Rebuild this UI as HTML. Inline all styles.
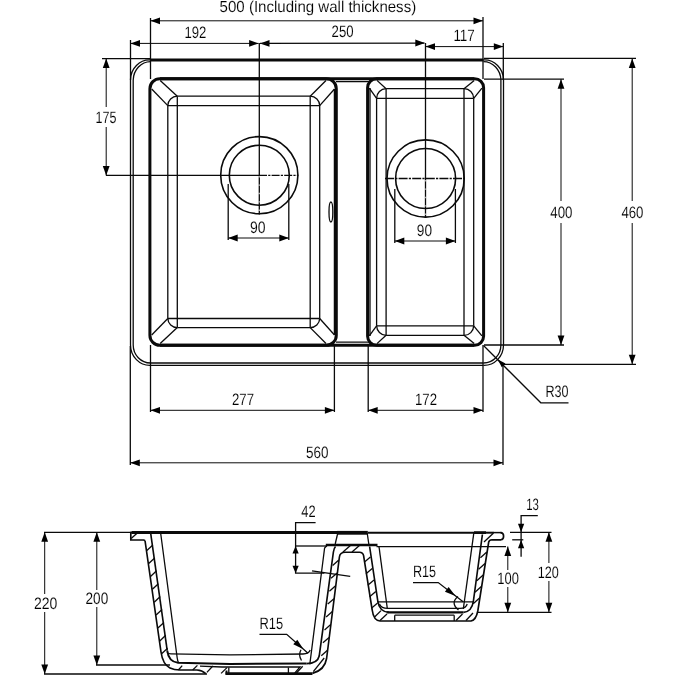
<!DOCTYPE html>
<html><head><meta charset="utf-8"><title>Sink drawing</title>
<style>
html,body{margin:0;padding:0;background:#fff;}
body{width:675px;height:675px;overflow:hidden;}
svg{display:block;}
text{font-family:"Liberation Sans",sans-serif;fill:#000;stroke:#fff;stroke-width:0.12px;text-rendering:geometricPrecision;}
svg{will-change:transform;}
</style></head><body>
<svg width="675" height="675" viewBox="0 0 675 675">
<rect width="675" height="675" fill="#fff"/>
<path d="M150.5,60 H483.5" stroke="#0a0a0a" stroke-width="3.0" fill="none" />
<path d="M150.5,60 A19,20 0 0 0 130.5,80" stroke="#0a0a0a" stroke-width="1.3" fill="none" />
<path d="M150.5,61.6 A17.5,19 0 0 0 133.2,80" stroke="#0a0a0a" stroke-width="1.3" fill="none" />
<path d="M483.5,60 A19,20 0 0 1 503.5,80" stroke="#0a0a0a" stroke-width="1.3" fill="none" />
<path d="M483.5,61.6 A17.5,19 0 0 1 500.9,80" stroke="#0a0a0a" stroke-width="1.3" fill="none" />
<line x1="130.5" y1="80" x2="130.5" y2="345" stroke="#0a0a0a" stroke-width="1.3" />
<line x1="133.2" y1="80" x2="133.2" y2="345" stroke="#0a0a0a" stroke-width="1.3" />
<line x1="503.5" y1="80" x2="503.5" y2="345" stroke="#0a0a0a" stroke-width="1.3" />
<line x1="500.9" y1="80" x2="500.9" y2="345" stroke="#0a0a0a" stroke-width="1.3" />
<path d="M130.5,345 A19.5,20.4 0 0 0 150.5,365.4" stroke="#0a0a0a" stroke-width="1.3" fill="none" />
<path d="M133.2,345 A17.3,18 0 0 0 150.5,363" stroke="#0a0a0a" stroke-width="1.3" fill="none" />
<path d="M503.5,345 A19.5,20.4 0 0 1 483.5,365.4" stroke="#0a0a0a" stroke-width="1.3" fill="none" />
<path d="M500.9,345 A17.3,18 0 0 1 483.5,363" stroke="#0a0a0a" stroke-width="1.3" fill="none" />
<line x1="150.5" y1="363" x2="483.5" y2="363" stroke="#0a0a0a" stroke-width="1.3" />
<line x1="150.5" y1="365.4" x2="483.5" y2="365.4" stroke="#0a0a0a" stroke-width="1.3" />
<line x1="160" y1="78.7" x2="474" y2="78.7" stroke="#0a0a0a" stroke-width="3.0" />
<line x1="160" y1="345.3" x2="474" y2="345.3" stroke="#0a0a0a" stroke-width="3.0" />
<line x1="336" y1="81.7" x2="370" y2="81.7" stroke="#0a0a0a" stroke-width="1.3" />
<line x1="336" y1="342.2" x2="370" y2="342.2" stroke="#0a0a0a" stroke-width="1.3" />
<rect x="149.9" y="78.7" width="186.4" height="266.6" rx="10" ry="10" fill="none" stroke="#0a0a0a" stroke-width="3.0"/>
<line x1="177.3" y1="96.2" x2="310.2" y2="96.2" stroke="#0a0a0a" stroke-width="1.3" />
<line x1="167.8" y1="105.6" x2="319.7" y2="105.6" stroke="#0a0a0a" stroke-width="1.3" />
<line x1="167.8" y1="318.5" x2="319.7" y2="318.5" stroke="#0a0a0a" stroke-width="1.3" />
<line x1="177.3" y1="327.6" x2="310.2" y2="327.6" stroke="#0a0a0a" stroke-width="1.3" />
<line x1="167.8" y1="105.6" x2="167.8" y2="318.5" stroke="#0a0a0a" stroke-width="1.3" />
<line x1="177.3" y1="96.2" x2="177.3" y2="327.6" stroke="#0a0a0a" stroke-width="1.3" />
<line x1="319.7" y1="105.6" x2="319.7" y2="318.5" stroke="#0a0a0a" stroke-width="1.3" />
<line x1="310.2" y1="96.2" x2="310.2" y2="327.6" stroke="#0a0a0a" stroke-width="1.3" />
<path d="M167.8,105.6 A9.5,9.399999999999991 0 0 1 177.3,96.2" stroke="#0a0a0a" stroke-width="1.3" fill="none" />
<path d="M319.7,105.6 A9.5,9.399999999999991 0 0 0 310.2,96.2" stroke="#0a0a0a" stroke-width="1.3" fill="none" />
<path d="M167.8,318.5 A9.5,9.399999999999991 0 0 0 177.3,327.6" stroke="#0a0a0a" stroke-width="1.3" fill="none" />
<path d="M319.7,318.5 A9.5,9.399999999999991 0 0 1 310.2,327.6" stroke="#0a0a0a" stroke-width="1.3" fill="none" />
<line x1="151.7" y1="89.0" x2="167.8" y2="105.6" stroke="#0a0a0a" stroke-width="1.3" />
<line x1="160.20000000000002" y1="80.5" x2="177.3" y2="96.2" stroke="#0a0a0a" stroke-width="1.3" />
<line x1="334.5" y1="89.0" x2="319.7" y2="105.6" stroke="#0a0a0a" stroke-width="1.3" />
<line x1="326.0" y1="80.5" x2="310.2" y2="96.2" stroke="#0a0a0a" stroke-width="1.3" />
<line x1="151.7" y1="335.0" x2="167.8" y2="318.5" stroke="#0a0a0a" stroke-width="1.3" />
<line x1="160.20000000000002" y1="343.5" x2="177.3" y2="327.6" stroke="#0a0a0a" stroke-width="1.3" />
<line x1="334.5" y1="335.0" x2="319.7" y2="318.5" stroke="#0a0a0a" stroke-width="1.3" />
<line x1="326.0" y1="343.5" x2="310.2" y2="327.6" stroke="#0a0a0a" stroke-width="1.3" />
<line x1="334.4" y1="89" x2="334.4" y2="335" stroke="#0a0a0a" stroke-width="1.3" />
<rect x="367.6" y="78.7" width="116.0" height="266.6" rx="9" ry="9" fill="none" stroke="#0a0a0a" stroke-width="3.0"/>
<line x1="386.1" y1="88.7" x2="464.0" y2="88.7" stroke="#0a0a0a" stroke-width="1.3" />
<line x1="376.6" y1="98.4" x2="473.7" y2="98.4" stroke="#0a0a0a" stroke-width="1.3" />
<line x1="376.6" y1="325.8" x2="473.7" y2="325.8" stroke="#0a0a0a" stroke-width="1.3" />
<line x1="386.1" y1="335.3" x2="464.0" y2="335.3" stroke="#0a0a0a" stroke-width="1.3" />
<line x1="376.6" y1="98.4" x2="376.6" y2="325.8" stroke="#0a0a0a" stroke-width="1.3" />
<line x1="386.1" y1="88.7" x2="386.1" y2="335.3" stroke="#0a0a0a" stroke-width="1.3" />
<line x1="473.7" y1="98.4" x2="473.7" y2="325.8" stroke="#0a0a0a" stroke-width="1.3" />
<line x1="464.0" y1="88.7" x2="464.0" y2="335.3" stroke="#0a0a0a" stroke-width="1.3" />
<path d="M376.6,98.4 A9.5,9.700000000000003 0 0 1 386.1,88.7" stroke="#0a0a0a" stroke-width="1.3" fill="none" />
<path d="M473.7,98.4 A9.5,9.700000000000003 0 0 0 464.0,88.7" stroke="#0a0a0a" stroke-width="1.3" fill="none" />
<path d="M376.6,325.8 A9.5,9.700000000000003 0 0 0 386.1,335.3" stroke="#0a0a0a" stroke-width="1.3" fill="none" />
<path d="M473.7,325.8 A9.5,9.700000000000003 0 0 1 464.0,335.3" stroke="#0a0a0a" stroke-width="1.3" fill="none" />
<line x1="369.28000000000003" y1="88.07000000000001" x2="376.6" y2="98.4" stroke="#0a0a0a" stroke-width="1.3" />
<line x1="376.97" y1="80.38" x2="386.1" y2="88.7" stroke="#0a0a0a" stroke-width="1.3" />
<line x1="481.92" y1="88.07000000000001" x2="473.7" y2="98.4" stroke="#0a0a0a" stroke-width="1.3" />
<line x1="474.23" y1="80.38" x2="464.0" y2="88.7" stroke="#0a0a0a" stroke-width="1.3" />
<line x1="369.28000000000003" y1="335.93" x2="376.6" y2="325.8" stroke="#0a0a0a" stroke-width="1.3" />
<line x1="376.97" y1="343.62" x2="386.1" y2="335.3" stroke="#0a0a0a" stroke-width="1.3" />
<line x1="481.92" y1="335.93" x2="473.7" y2="325.8" stroke="#0a0a0a" stroke-width="1.3" />
<line x1="474.23" y1="343.62" x2="464.0" y2="335.3" stroke="#0a0a0a" stroke-width="1.3" />
<line x1="370.0" y1="88" x2="370.0" y2="336" stroke="#0a0a0a" stroke-width="1.3" />
<circle cx="259.3" cy="175.2" r="38.6" fill="none" stroke="#0a0a0a" stroke-width="1.6"/>
<circle cx="259.3" cy="175.2" r="30" fill="none" stroke="#0a0a0a" stroke-width="1.6"/>
<circle cx="425.6" cy="178.5" r="38.6" fill="none" stroke="#0a0a0a" stroke-width="1.6"/>
<circle cx="425.6" cy="178.5" r="30" fill="none" stroke="#0a0a0a" stroke-width="1.6"/>
<ellipse cx="330.9" cy="212" rx="1.9" ry="10" fill="none" stroke="#0a0a0a" stroke-width="1.3"/>
<line x1="259.3" y1="43" x2="259.3" y2="214.5" stroke="#0a0a0a" stroke-width="1.3" />
<line x1="106" y1="175.4" x2="259" y2="175.4" stroke="#0a0a0a" stroke-width="1.3" />
<line x1="259" y1="175.4" x2="298.3" y2="175.4" stroke="#0a0a0a" stroke-width="1.3" stroke-dasharray="8 1.2 2.2 1.2"/>
<line x1="259.3" y1="176" x2="259.3" y2="214" stroke="#fff" stroke-width="1.6" stroke-dasharray="1.4 7" stroke-opacity="0.65"/>
<line x1="425.5" y1="43" x2="425.5" y2="218" stroke="#0a0a0a" stroke-width="1.3" />
<line x1="385" y1="178.5" x2="465" y2="178.5" stroke="#0a0a0a" stroke-width="1.3" stroke-dasharray="9 1.2 2.2 1.2"/>
<line x1="425.5" y1="180" x2="425.5" y2="218" stroke="#fff" stroke-width="1.6" stroke-dasharray="1.4 7" stroke-opacity="0.65"/>
<line x1="228.2" y1="184" x2="228.2" y2="240" stroke="#0a0a0a" stroke-width="1.3" />
<line x1="288.8" y1="184" x2="288.8" y2="240" stroke="#0a0a0a" stroke-width="1.3" />
<line x1="228.2" y1="238" x2="288.8" y2="238" stroke="#0a0a0a" stroke-width="1.0" />
<polygon points="228.20,238.00 237.70,234.60 237.70,241.40" fill="#000"/>
<polygon points="288.80,238.00 279.30,241.40 279.30,234.60" fill="#000"/>
<text x="250" y="233" font-size="16.5" textLength="15.6" lengthAdjust="spacingAndGlyphs">90</text>
<line x1="394.8" y1="189" x2="394.8" y2="243" stroke="#0a0a0a" stroke-width="1.3" />
<line x1="455.4" y1="189" x2="455.4" y2="243" stroke="#0a0a0a" stroke-width="1.3" />
<line x1="394.8" y1="241" x2="455.4" y2="241" stroke="#0a0a0a" stroke-width="1.0" />
<polygon points="394.80,241.00 404.30,237.60 404.30,244.40" fill="#000"/>
<polygon points="455.40,241.00 445.90,244.40 445.90,237.60" fill="#000"/>
<text x="416.8" y="236" font-size="16.5" textLength="15.2" lengthAdjust="spacingAndGlyphs">90</text>
<line x1="150.5" y1="18" x2="150.5" y2="79" stroke="#0a0a0a" stroke-width="1.3" />
<line x1="483" y1="17" x2="483" y2="79" stroke="#0a0a0a" stroke-width="1.3" />
<line x1="150.5" y1="20.8" x2="483" y2="20.8" stroke="#0a0a0a" stroke-width="1.0" />
<polygon points="150.50,20.80 160.00,17.40 160.00,24.20" fill="#000"/>
<polygon points="483.00,20.80 473.50,24.20 473.50,17.40" fill="#000"/>
<text x="219.6" y="11.6" font-size="16" textLength="196.6" lengthAdjust="spacingAndGlyphs">500 (Including wall thickness)</text>
<line x1="130.5" y1="40" x2="130.5" y2="80" stroke="#0a0a0a" stroke-width="1.3" />
<line x1="130.5" y1="43.4" x2="258.6" y2="43.4" stroke="#0a0a0a" stroke-width="1.0" />
<polygon points="130.50,43.40 140.00,40.00 140.00,46.80" fill="#000"/>
<polygon points="258.60,43.40 249.10,46.80 249.10,40.00" fill="#000"/>
<polygon points="260.00,43.40 269.50,40.00 269.50,46.80" fill="#000"/>
<line x1="260" y1="43.4" x2="424.5" y2="43.2" stroke="#0a0a0a" stroke-width="1.3" />
<polygon points="424.80,43.00 415.30,46.40 415.30,39.60" fill="#000"/>
<text x="184.5" y="37.6" font-size="16.5" textLength="21.9" lengthAdjust="spacingAndGlyphs">192</text>
<text x="331.6" y="37.4" font-size="16.5" textLength="22.0" lengthAdjust="spacingAndGlyphs">250</text>
<line x1="503.3" y1="43" x2="503.3" y2="80" stroke="#0a0a0a" stroke-width="1.3" />
<line x1="425.5" y1="46.6" x2="503.3" y2="46.6" stroke="#0a0a0a" stroke-width="1.0" />
<polygon points="425.50,46.60 435.00,43.20 435.00,50.00" fill="#000"/>
<polygon points="503.30,46.60 493.80,50.00 493.80,43.20" fill="#000"/>
<text x="453.4" y="41" font-size="16.5" textLength="21.4" lengthAdjust="spacingAndGlyphs">117</text>
<line x1="102" y1="58.6" x2="150" y2="58.6" stroke="#0a0a0a" stroke-width="1.3" />
<line x1="106.2" y1="58.6" x2="106.2" y2="107" stroke="#0a0a0a" stroke-width="1.0" />
<line x1="106.2" y1="127" x2="106.2" y2="175.5" stroke="#0a0a0a" stroke-width="1.0" />
<polygon points="106.20,58.60 109.60,68.10 102.80,68.10" fill="#000"/>
<polygon points="106.20,175.50 102.80,166.00 109.60,166.00" fill="#000"/>
<text x="95.5" y="122.8" font-size="16.5" textLength="20.9" lengthAdjust="spacingAndGlyphs">175</text>
<line x1="484" y1="79.2" x2="564" y2="79.2" stroke="#0a0a0a" stroke-width="1.3" />
<line x1="484" y1="345" x2="564" y2="345" stroke="#0a0a0a" stroke-width="1.3" />
<line x1="561" y1="79.2" x2="561" y2="201" stroke="#0a0a0a" stroke-width="1.0" />
<line x1="561" y1="223" x2="561" y2="345" stroke="#0a0a0a" stroke-width="1.0" />
<polygon points="561.00,79.20 564.40,88.70 557.60,88.70" fill="#000"/>
<polygon points="561.00,345.00 557.60,335.50 564.40,335.50" fill="#000"/>
<text x="550.3" y="217.8" font-size="16.5" textLength="22.2" lengthAdjust="spacingAndGlyphs">400</text>
<line x1="484" y1="58.4" x2="636" y2="58.4" stroke="#0a0a0a" stroke-width="1.3" />
<line x1="503" y1="364.3" x2="636" y2="364.3" stroke="#0a0a0a" stroke-width="1.3" />
<line x1="632.2" y1="58.4" x2="632.2" y2="201" stroke="#0a0a0a" stroke-width="1.0" />
<line x1="632.2" y1="223" x2="632.2" y2="364.3" stroke="#0a0a0a" stroke-width="1.0" />
<polygon points="632.20,58.40 635.60,67.90 628.80,67.90" fill="#000"/>
<polygon points="632.20,364.30 628.80,354.80 635.60,354.80" fill="#000"/>
<text x="621.4" y="217.8" font-size="16.5" textLength="22.1" lengthAdjust="spacingAndGlyphs">460</text>
<line x1="150.5" y1="345" x2="150.5" y2="412" stroke="#0a0a0a" stroke-width="1.3" />
<line x1="334.4" y1="345" x2="334.4" y2="412" stroke="#0a0a0a" stroke-width="1.3" />
<line x1="150.5" y1="410.3" x2="334.4" y2="410.3" stroke="#0a0a0a" stroke-width="1.0" />
<polygon points="150.50,410.30 160.00,406.90 160.00,413.70" fill="#000"/>
<polygon points="334.40,410.30 324.90,413.70 324.90,406.90" fill="#000"/>
<text x="232" y="404.8" font-size="16.5" textLength="22.0" lengthAdjust="spacingAndGlyphs">277</text>
<line x1="368.2" y1="345" x2="368.2" y2="412" stroke="#0a0a0a" stroke-width="1.3" />
<line x1="483" y1="345" x2="483" y2="412" stroke="#0a0a0a" stroke-width="1.3" />
<line x1="368.2" y1="410.3" x2="483" y2="410.3" stroke="#0a0a0a" stroke-width="1.0" />
<polygon points="368.20,410.30 377.70,406.90 377.70,413.70" fill="#000"/>
<polygon points="483.00,410.30 473.50,413.70 473.50,406.90" fill="#000"/>
<text x="415" y="404.8" font-size="16.5" textLength="22.0" lengthAdjust="spacingAndGlyphs">172</text>
<line x1="130.3" y1="346" x2="130.3" y2="465" stroke="#0a0a0a" stroke-width="1.3" />
<line x1="503" y1="365" x2="503" y2="465" stroke="#0a0a0a" stroke-width="1.3" />
<line x1="130.3" y1="462.8" x2="503" y2="462.8" stroke="#0a0a0a" stroke-width="1.0" />
<polygon points="130.30,462.80 139.80,459.40 139.80,466.20" fill="#000"/>
<polygon points="503.00,462.80 493.50,466.20 493.50,459.40" fill="#000"/>
<text x="306" y="457.6" font-size="16.5" textLength="22.5" lengthAdjust="spacingAndGlyphs">560</text>
<path d="M483.5,345.5 L540.8,402.8 H568.5" stroke="#0a0a0a" stroke-width="1.3" fill="none" />
<polygon points="497.60,359.30 505.45,363.47 501.77,367.15" fill="#000"/>
<text x="545.4" y="397.2" font-size="16.5" textLength="23.1" lengthAdjust="spacingAndGlyphs">R30</text>
<line x1="131.5" y1="532.6" x2="337" y2="532.6" stroke="#0a0a0a" stroke-width="3.0" />
<line x1="337" y1="532.8" x2="367.8" y2="532.8" stroke="#0a0a0a" stroke-width="3.8" />
<line x1="367.8" y1="532.8" x2="474" y2="532.8" stroke="#0a0a0a" stroke-width="2.1" />
<line x1="474" y1="532.6" x2="486" y2="532.6" stroke="#0a0a0a" stroke-width="2.8" />
<line x1="486" y1="532.7" x2="494" y2="532.7" stroke="#0a0a0a" stroke-width="2.0" />
<line x1="494" y1="532.6" x2="501.5" y2="532.6" stroke="#0a0a0a" stroke-width="1.5" />
<path d="M132,532.5 H130.8 V540 H143.6 L145,540.5" stroke="#0a0a0a" stroke-width="1.65" fill="none" />
<line x1="131.2" y1="538.6" x2="137" y2="533.2" stroke="#0a0a0a" stroke-width="1.3" />
<path d="M145,540.5 L161,652 Q162.8,664.5 170,668 Q174,670 180,670 H197 Q202,670.3 205.8,673.6" stroke="#0a0a0a" stroke-width="1.65" fill="none" />
<path d="M167.2,650.5 Q168.6,661.8 178,662.8 L230,664 L306.5,663.6" stroke="#0a0a0a" stroke-width="2.0" fill="none" />
<path d="M150.7,533.5 L167.2,650.5" stroke="#0a0a0a" stroke-width="1.65" fill="none" />
<path d="M160.7,533.5 L177.2,658 Q177.6,661 178.6,662.6" stroke="#0a0a0a" stroke-width="1.3" fill="none" />
<line x1="146.8443" y1="550.6" x2="152.8443" y2="545.0" stroke="#0a0a0a" stroke-width="1.3" />
<line x1="148.689" y1="563.5" x2="154.689" y2="557.9" stroke="#0a0a0a" stroke-width="1.3" />
<line x1="150.5337" y1="576.4" x2="156.5337" y2="570.8" stroke="#0a0a0a" stroke-width="1.3" />
<line x1="152.37840000000003" y1="589.3000000000001" x2="158.37840000000003" y2="583.7" stroke="#0a0a0a" stroke-width="1.3" />
<line x1="154.22310000000002" y1="602.2" x2="160.22310000000002" y2="596.6" stroke="#0a0a0a" stroke-width="1.3" />
<line x1="156.0678" y1="615.1" x2="162.0678" y2="609.5" stroke="#0a0a0a" stroke-width="1.3" />
<line x1="157.9125" y1="628.0" x2="163.9125" y2="622.4" stroke="#0a0a0a" stroke-width="1.3" />
<line x1="159.7572" y1="640.9" x2="165.7572" y2="635.3" stroke="#0a0a0a" stroke-width="1.3" />
<line x1="161.60190000000003" y1="653.8000000000001" x2="167.60190000000003" y2="648.2" stroke="#0a0a0a" stroke-width="1.3" />
<path d="M167,652.5 Q167.6,653.7 171,653.8 L230,654.9 L303,654 Q309,653.8 310.2,650" stroke="#0a0a0a" stroke-width="1.3" fill="none" />
<path d="M200,666.2 L222,667 H300 L294.7,673.2" stroke="#0a0a0a" stroke-width="1.3" fill="none" />
<line x1="228.8" y1="667.5" x2="228.8" y2="673.5" stroke="#0a0a0a" stroke-width="1.3" />
<line x1="288.4" y1="667.5" x2="288.4" y2="673.5" stroke="#0a0a0a" stroke-width="1.3" />
<line x1="225.5" y1="673.6" x2="312.4" y2="673.6" stroke="#0a0a0a" stroke-width="2.6" />
<line x1="226.5" y1="670.5" x2="226.5" y2="674.5" stroke="#0a0a0a" stroke-width="2.0" />
<line x1="178.4" y1="670" x2="182.2" y2="665.6" stroke="#0a0a0a" stroke-width="1.3" />
<line x1="192.7" y1="670" x2="197.4" y2="665.4" stroke="#0a0a0a" stroke-width="1.3" />
<line x1="206.9" y1="672.4" x2="212.8" y2="666" stroke="#0a0a0a" stroke-width="1.3" />
<line x1="221.1" y1="673.4" x2="227" y2="667.6" stroke="#0a0a0a" stroke-width="1.3" />
<line x1="296.4" y1="673" x2="302.7" y2="666.2" stroke="#0a0a0a" stroke-width="1.3" />
<line x1="313.3" y1="671.6" x2="324.2" y2="658" stroke="#0a0a0a" stroke-width="1.3" />
<path d="M309.8,664.3 L324.6,548 L327,545.5" stroke="#0a0a0a" stroke-width="1.3" fill="none" />
<path d="M306.5,663.6 Q317.6,663.4 319.2,656 L333.4,552 Q334,548 335.5,546.5" stroke="#0a0a0a" stroke-width="1.65" fill="none" />
<path d="M312.4,673.4 Q324.8,670 326.6,658.5 L339.4,557 Q340,552.2 345,552.2 H359.5 Q362.8,552.2 363.6,555.6 L372.2,610 Q373.6,620.6 380,621 H471 Q476,620 477.8,611 L488.7,542 Q489.2,539.9 492,539.8 H501 Q503.6,539.5 503.6,536 Q503.6,532.8 500.5,532.6" stroke="#0a0a0a" stroke-width="1.65" fill="none" />
<line x1="332.6235" y1="565.4" x2="338.82349999999997" y2="560.0" stroke="#0a0a0a" stroke-width="1.3" />
<line x1="331.00455" y1="578.3" x2="337.20455" y2="572.9" stroke="#0a0a0a" stroke-width="1.3" />
<line x1="329.3856" y1="591.1999999999999" x2="335.5856" y2="585.8" stroke="#0a0a0a" stroke-width="1.3" />
<line x1="327.76664999999997" y1="604.1" x2="333.96664999999996" y2="598.7" stroke="#0a0a0a" stroke-width="1.3" />
<line x1="326.1477" y1="617.0" x2="332.3477" y2="611.6" stroke="#0a0a0a" stroke-width="1.3" />
<line x1="324.52875" y1="629.9" x2="330.72875" y2="624.5" stroke="#0a0a0a" stroke-width="1.3" />
<line x1="322.9098" y1="642.8" x2="329.1098" y2="637.4" stroke="#0a0a0a" stroke-width="1.3" />
<line x1="321.29085" y1="655.6999999999999" x2="327.49084999999997" y2="650.3" stroke="#0a0a0a" stroke-width="1.3" />
<line x1="325.8" y1="545" x2="377.5" y2="545" stroke="#0a0a0a" stroke-width="2.4" />
<path d="M337.8,533 L335.2,544" stroke="#0a0a0a" stroke-width="1.3" fill="none" />
<path d="M367.2,533 L368.8,544" stroke="#0a0a0a" stroke-width="1.3" fill="none" />
<line x1="343" y1="552" x2="350.4" y2="545.5" stroke="#0a0a0a" stroke-width="1.3" />
<line x1="352" y1="552" x2="359.4" y2="545.5" stroke="#0a0a0a" stroke-width="1.3" />
<line x1="312" y1="570.8" x2="350.2" y2="576.4" stroke="#0a0a0a" stroke-width="1.3" />
<path d="M369.6,546.5 L377.8,601 Q379.2,611.8 389,612.4" stroke="#0a0a0a" stroke-width="1.65" fill="none" />
<path d="M379,546.7 L387.3,608.5" stroke="#0a0a0a" stroke-width="1.3" fill="none" />
<line x1="364.2128" y1="562.2" x2="370.4128" y2="557.0" stroke="#0a0a0a" stroke-width="1.3" />
<line x1="366.01140000000004" y1="573.7" x2="372.2114" y2="568.5" stroke="#0a0a0a" stroke-width="1.3" />
<line x1="367.81000000000006" y1="585.2" x2="374.01000000000005" y2="580.0" stroke="#0a0a0a" stroke-width="1.3" />
<line x1="369.6086" y1="596.7" x2="375.8086" y2="591.5" stroke="#0a0a0a" stroke-width="1.3" />
<line x1="371.40720000000005" y1="608.2" x2="377.60720000000003" y2="603.0" stroke="#0a0a0a" stroke-width="1.3" />
<line x1="296" y1="546" x2="327" y2="546" stroke="#0a0a0a" stroke-width="1.3" />
<line x1="376.5" y1="546.6" x2="506" y2="546.6" stroke="#0a0a0a" stroke-width="1.3" />
<line x1="377" y1="601.9" x2="474" y2="601.9" stroke="#0a0a0a" stroke-width="1.3" />
<path d="M379.5,604 Q381,608.4 388,608.4 H460 Q466,608.4 467.2,604" stroke="#0a0a0a" stroke-width="1.3" fill="none" />
<line x1="386.7" y1="612.4" x2="463.5" y2="612.4" stroke="#0a0a0a" stroke-width="2.4" />
<path d="M463.5,612.4 Q472,611.5 473.4,601 L482.4,534.5" stroke="#0a0a0a" stroke-width="1.65" fill="none" />
<path d="M473.8,533.2 L463.3,609" stroke="#0a0a0a" stroke-width="1.3" fill="none" />
<line x1="394.7" y1="615.2" x2="454.2" y2="615.2" stroke="#0a0a0a" stroke-width="1.3" />
<line x1="394.7" y1="615.2" x2="394.7" y2="621" stroke="#0a0a0a" stroke-width="1.3" />
<line x1="454.2" y1="615.2" x2="454.2" y2="621" stroke="#0a0a0a" stroke-width="1.3" />
<line x1="374.6" y1="617" x2="381" y2="610.6" stroke="#0a0a0a" stroke-width="1.3" />
<line x1="380" y1="620.5" x2="387" y2="614" stroke="#0a0a0a" stroke-width="1.3" />
<line x1="456" y1="620.5" x2="462.5" y2="614" stroke="#0a0a0a" stroke-width="1.3" />
<line x1="466" y1="620.5" x2="473" y2="613" stroke="#0a0a0a" stroke-width="1.3" />
<line x1="480.42" y1="557.8" x2="486.82" y2="552.0" stroke="#0a0a0a" stroke-width="1.3" />
<line x1="478.603" y1="569.3" x2="485.003" y2="563.5" stroke="#0a0a0a" stroke-width="1.3" />
<line x1="476.786" y1="580.8" x2="483.186" y2="575.0" stroke="#0a0a0a" stroke-width="1.3" />
<line x1="474.969" y1="592.3" x2="481.36899999999997" y2="586.5" stroke="#0a0a0a" stroke-width="1.3" />
<line x1="473.152" y1="603.8" x2="479.55199999999996" y2="598.0" stroke="#0a0a0a" stroke-width="1.3" />
<line x1="484" y1="542" x2="493.3" y2="533.2" stroke="#0a0a0a" stroke-width="1.3" />
<text x="259.5" y="629.4" font-size="16.5" textLength="23.6" lengthAdjust="spacingAndGlyphs">R15</text>
<path d="M259.5,634.3 H286.7 L308,653.3" stroke="#0a0a0a" stroke-width="1.3" fill="none" />
<polygon points="303.50,649.30 293.29,644.22 297.28,639.74" fill="#000"/>
<path d="M301,649.8 Q298,655 301.5,660.5" stroke="#0a0a0a" stroke-width="1.3" fill="none" />
<text x="413" y="577" font-size="16.5" textLength="23.1" lengthAdjust="spacingAndGlyphs">R15</text>
<path d="M413,582.6 H438.2 L463.1,601.8" stroke="#0a0a0a" stroke-width="1.3" fill="none" />
<polygon points="455.50,596.00 444.95,591.67 448.62,586.91" fill="#000"/>
<path d="M458,596.5 Q450,603 458.5,610" stroke="#0a0a0a" stroke-width="1.3" fill="none" />
<text x="301.3" y="517.3" font-size="16.5" textLength="14.3" lengthAdjust="spacingAndGlyphs">42</text>
<path d="M315.6,522.6 H295.6 V573.2 H324.4" stroke="#0a0a0a" stroke-width="1.3" fill="none" />
<polygon points="295.60,546.00 298.70,553.50 292.50,553.50" fill="#000"/>
<polygon points="295.60,573.20 292.50,565.70 298.70,565.70" fill="#000"/>
<line x1="44" y1="532.3" x2="131" y2="532.3" stroke="#0a0a0a" stroke-width="1.3" />
<line x1="44" y1="674" x2="207" y2="674" stroke="#0a0a0a" stroke-width="1.3" />
<line x1="44.7" y1="532.3" x2="44.7" y2="594" stroke="#0a0a0a" stroke-width="1.0" />
<line x1="44.7" y1="612" x2="44.7" y2="674" stroke="#0a0a0a" stroke-width="1.0" />
<polygon points="44.70,532.30 48.10,541.80 41.30,541.80" fill="#000"/>
<polygon points="44.70,674.00 41.30,664.50 48.10,664.50" fill="#000"/>
<text x="33.9" y="608.8" font-size="16.5" textLength="23.4" lengthAdjust="spacingAndGlyphs">220</text>
<line x1="96" y1="665" x2="170" y2="665" stroke="#0a0a0a" stroke-width="1.3" />
<line x1="96.8" y1="532.3" x2="96.8" y2="590" stroke="#0a0a0a" stroke-width="1.0" />
<line x1="96.8" y1="607" x2="96.8" y2="665" stroke="#0a0a0a" stroke-width="1.0" />
<polygon points="96.80,532.30 100.20,541.80 93.40,541.80" fill="#000"/>
<polygon points="96.80,665.00 93.40,655.50 100.20,655.50" fill="#000"/>
<text x="85.5" y="604" font-size="16.5" textLength="22.7" lengthAdjust="spacingAndGlyphs">200</text>
<line x1="478" y1="612.3" x2="551.5" y2="612.3" stroke="#0a0a0a" stroke-width="1.3" />
<line x1="507.8" y1="546.5" x2="507.8" y2="570" stroke="#0a0a0a" stroke-width="1.0" />
<line x1="507.8" y1="587" x2="507.8" y2="612.3" stroke="#0a0a0a" stroke-width="1.0" />
<polygon points="507.80,546.50 511.20,556.00 504.40,556.00" fill="#000"/>
<polygon points="507.80,612.30 504.40,602.80 511.20,602.80" fill="#000"/>
<text x="497.3" y="584.4" font-size="16.5" textLength="21.6" lengthAdjust="spacingAndGlyphs">100</text>
<line x1="510" y1="532.3" x2="551.5" y2="532.3" stroke="#0a0a0a" stroke-width="1.3" />
<line x1="548.9" y1="532.3" x2="548.9" y2="563" stroke="#0a0a0a" stroke-width="1.0" />
<line x1="548.9" y1="581" x2="548.9" y2="612.3" stroke="#0a0a0a" stroke-width="1.0" />
<polygon points="548.90,532.30 552.30,541.80 545.50,541.80" fill="#000"/>
<polygon points="548.90,612.30 545.50,602.80 552.30,602.80" fill="#000"/>
<text x="537.8" y="577.8" font-size="16.5" textLength="21.1" lengthAdjust="spacingAndGlyphs">120</text>
<path d="M537.8,515.6 H521.1 V556.7" stroke="#0a0a0a" stroke-width="1.3" fill="none" />
<polygon points="521.10,532.30 518.00,523.80 524.20,523.80" fill="#000"/>
<polygon points="521.10,539.80 524.20,548.30 518.00,548.30" fill="#000"/>
<line x1="512.2" y1="539.8" x2="523.3" y2="539.8" stroke="#0a0a0a" stroke-width="1.3" />
<text x="526.2" y="510.4" font-size="16.5" textLength="12.7" lengthAdjust="spacingAndGlyphs">13</text>
</svg>
</body></html>
